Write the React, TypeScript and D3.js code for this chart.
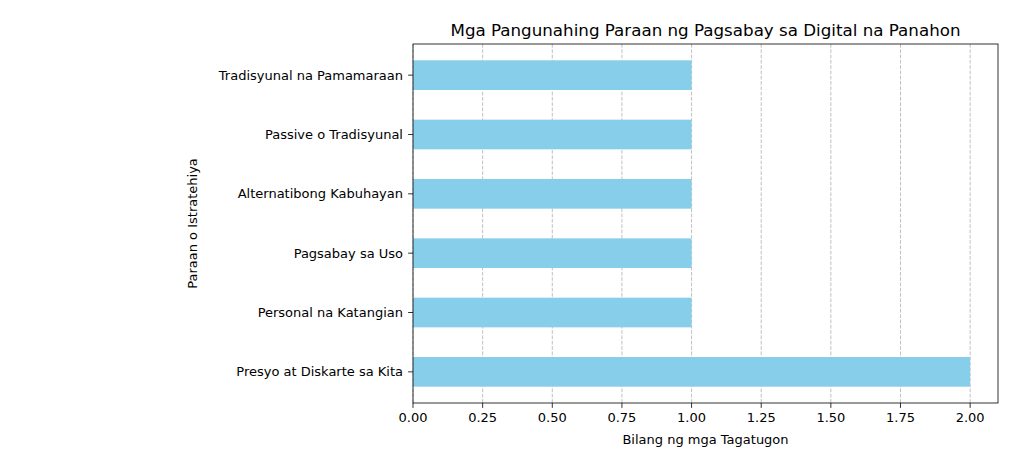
import * as d3 from "d3";
import * as React from "react";

const categories = [
  "Presyo at Diskarte sa Kita",
  "Personal na Katangian",
  "Pagsabay sa Uso",
  "Alternatibong Kabuhayan",
  "Passive o Tradisyunal",
  "Tradisyunal na Pamamaraan",
];
const counts = [2, 1, 1, 1, 1, 1];
const xTicks = [0, 0.25, 0.5, 0.75, 1.0, 1.25, 1.5, 1.75, 2.0];

const W = 1024, H = 472;
const left = 413, right = 998, top = 44, bottom = 403;

export default function App() {
  const x = d3.scaleLinear().domain([0, 2.1]).range([left, right]);
  const y = d3.scaleLinear().domain([-0.525, 5.525]).range([bottom, top]);
  const barH = y(0) - y(0.5);
  const font = "DejaVu Sans, sans-serif";
  return (
    <svg width={W} height={H} style={{ display: "block", margin: -8 }} fontFamily={font}>
      <rect width={W} height={H} fill="#fff" />
      {xTicks.map((t) => (
        <line key={"g" + t} x1={x(t)} x2={x(t)} y1={top} y2={bottom} stroke="#b0b0b0" strokeDasharray="3.7,1.6" strokeWidth={0.8} />
      ))}
      {counts.map((v, i) => (
        <rect key={i} x={x(0)} y={y(i) - barH / 2} width={x(v) - x(0)} height={barH} fill="#87CEEB" />
      ))}
      <rect x={left} y={top} width={right - left} height={bottom - top} fill="none" stroke="#000" strokeWidth={0.8} />
      {xTicks.map((t) => (
        <g key={"t" + t}>
          <line x1={x(t)} x2={x(t)} y1={bottom} y2={bottom + 4.9} stroke="#000" strokeWidth={0.8} />
          <text x={x(t)} y={bottom + 19} textAnchor="middle" fontSize={13}>{t.toFixed(2)}</text>
        </g>
      ))}
      {categories.map((c, i) => (
        <g key={c}>
          <line x1={left - 4.9} x2={left} y1={y(i)} y2={y(i)} stroke="#000" strokeWidth={0.8} />
          <text x={left - 10} y={y(i)} dy="0.35em" textAnchor="end" fontSize={13}>{c}</text>
        </g>
      ))}
      <text x={(left + right) / 2} y={444} textAnchor="middle" fontSize={13}>Bilang ng mga Tagatugon</text>
      <text transform={`translate(197,${(top + bottom) / 2}) rotate(-90)`} textAnchor="middle" fontSize={13}>Paraan o Istratehiya</text>
      <text x={(left + right) / 2} y={36} textAnchor="middle" fontSize={16.7}>Mga Pangunahing Paraan ng Pagsabay sa Digital na Panahon</text>
    </svg>
  );
}
